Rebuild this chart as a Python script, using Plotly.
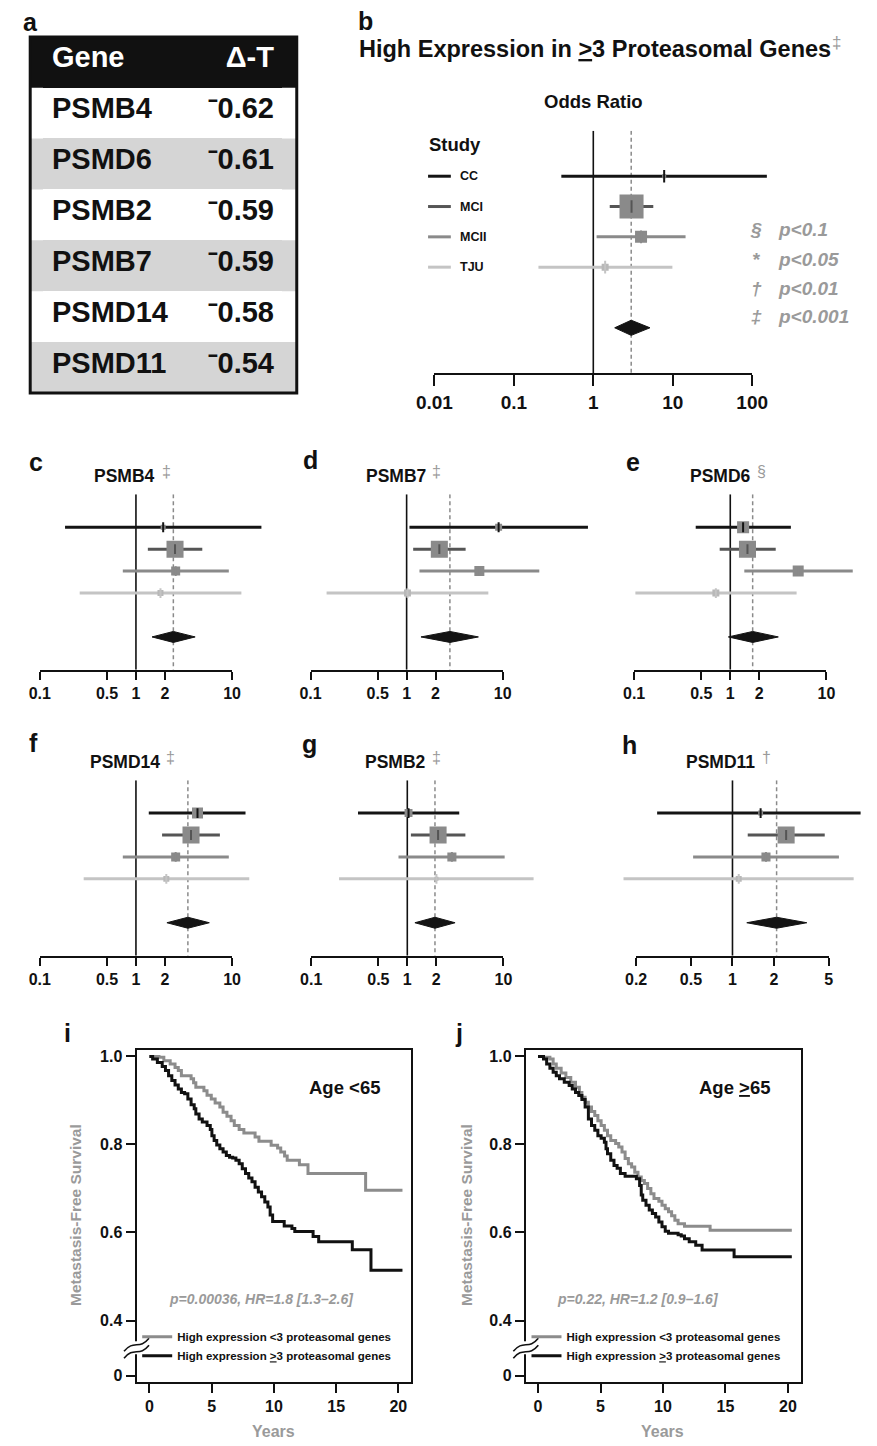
import math
import plotly.graph_objects as go

W, H = 877, 1446
def fx(x): return x / W
def fy(y): return 1 - y / H

FONT = "Liberation Sans, Arial, Helvetica, sans-serif"
GRAY_TXT = "#9a9a9a"

# ---------------- data ----------------
table_genes = ["PSMB4", "PSMD6", "PSMB2", "PSMB7", "PSMD14", "PSMD11"]
table_delta_t = [-0.62, -0.61, -0.59, -0.59, -0.58, -0.54]

studies = ["CC", "MCI", "MCII", "TJU"]

b_est = [7.8, 3.03, 3.99, 1.41]
b_lo = [0.396, 1.61, 1.10, 0.204]
b_hi = [153, 5.69, 14.5, 9.9]
b_weight = [1.7, 60, 15, 5.1]
b_pooled = [1.86, 3.0, 5.17]

c_est = [1.92, 2.55, 2.59, 1.80]
c_lo = [0.183, 1.33, 0.73, 0.26]
c_hi = [20.2, 4.9, 9.25, 12.5]
c_weight = [5.2, 60, 16.7, 7.4]
c_pooled = [1.47, 2.45, 4.13]

d_est = [9.06, 2.19, 5.71, 1.02]
d_lo = [1.07, 1.17, 1.36, 0.147]
d_hi = [77, 4.11, 24, 7.08]
d_weight = [10, 60, 20.7, 10]
d_pooled = [1.41, 2.82, 5.58]

e_est = [1.36, 1.51, 5.09, 0.708]
e_lo = [0.437, 0.776, 1.40, 0.103]
e_hi = [4.27, 2.97, 18.8, 4.9]
e_weight = [30, 60, 25, 10]
e_pooled = [0.955, 1.71, 3.16]

f_est = [4.37, 3.74, 2.59, 2.07]
f_lo = [1.36, 1.87, 0.73, 0.286]
f_hi = [13.8, 7.47, 9.25, 15.1]
f_weight = [25, 60, 16.7, 7.4]
f_pooled = [2.1, 3.47, 5.8]

g_est = [1.03, 2.09, 2.91, 2.01]
g_lo = [0.307, 1.09, 0.81, 0.195]
g_hi = [3.47, 4.02, 10.3, 20.6]
g_weight = [13, 60, 17, 3.3]
g_pooled = [1.2, 1.94, 3.14]

h_est = [1.60, 2.45, 1.75, 1.11]
h_lo = [0.284, 1.29, 0.518, 0.162]
h_hi = [8.5, 4.67, 5.92, 7.57]
h_weight = [5, 60, 17, 7.4]
h_pooled = [1.27, 2.09, 3.46]

ticks_b = [0.01, 0.1, 1, 10, 100]
ticks_b_text = ["0.01", "0.1", "1", "10", "100"]
ticks_std = [0.1, 0.5, 1, 2, 10]
ticks_std_text = ["0.1", "0.5", "1", "2", "10"]
ticks_h = [0.2, 0.5, 1, 2, 5]
ticks_h_text = ["0.2", "0.5", "1", "2", "5"]

panel_genes = ["PSMB4", "PSMB7", "PSMD6", "PSMD14", "PSMB2", "PSMD11"]
panel_signif = ["‡", "‡", "§", "‡", "‡", "†"]
overall_signif = "‡"

p_symbols = ["§", "*", "†", "‡"]
p_thresholds = ["p&lt;0.1", "p&lt;0.05", "p&lt;0.01", "p&lt;0.001"]

# Kaplan-Meier, age < 65
km_i_low_t = [0.77, 1.16, 1.67, 2.06, 2.32, 2.57, 3.35, 3.55, 3.73, 4.38, 4.63, 4.97, 5.28, 5.66,
              5.92, 6.23, 6.56, 6.82, 7.21, 7.59, 8.49, 8.80, 9.78, 10.30, 10.55, 10.86, 11.07,
              12.05, 12.74, 17.37]
km_i_low_s = [0.998, 0.990, 0.983, 0.975, 0.968, 0.956, 0.949, 0.940, 0.930, 0.922, 0.912, 0.903,
              0.894, 0.885, 0.873, 0.864, 0.854, 0.843, 0.834, 0.826, 0.817, 0.807, 0.798, 0.792,
              0.783, 0.774, 0.764, 0.754, 0.734, 0.696]
km_i_high_t = [0.26, 0.64, 1.03, 1.29, 1.54, 1.80, 2.06, 2.32, 2.57, 2.83, 3.09, 3.35, 3.60, 3.73,
               3.99, 4.25, 4.63, 4.89, 5.02, 5.20, 5.41, 5.66, 5.92, 6.18, 6.44, 6.69, 6.95, 7.21,
               7.46, 7.72, 7.98, 8.24, 8.49, 8.75, 9.01, 9.27, 9.52, 9.70, 9.90, 10.83, 11.45, 11.68,
               13.15, 13.60, 16.30, 17.80]
km_i_high_s = [0.994, 0.986, 0.977, 0.968, 0.956, 0.945, 0.935, 0.926, 0.918, 0.915, 0.903, 0.890,
               0.881, 0.869, 0.858, 0.851, 0.843, 0.834, 0.820, 0.809, 0.799, 0.790, 0.783, 0.775,
               0.771, 0.769, 0.764, 0.756, 0.745, 0.734, 0.724, 0.715, 0.703, 0.692, 0.681, 0.669,
               0.658, 0.640, 0.625, 0.615, 0.609, 0.602, 0.591, 0.579, 0.561, 0.514]
km_i_end = 20.33

# Kaplan-Meier, age >= 65
km_j_low_t = [0.44, 0.95, 1.21, 1.46, 1.85, 2.23, 2.62, 3.00, 3.31, 3.51, 3.77, 4.03, 4.28, 4.54,
              4.79, 5.05, 5.31, 5.56, 5.82, 6.21, 6.46, 6.72, 6.97, 7.23, 7.49, 7.74, 8.00, 8.26,
              8.51, 8.77, 9.03, 9.28, 9.67, 9.92, 10.18, 10.44, 10.69, 10.95, 11.21, 11.72, 13.77]
km_j_low_s = [0.998, 0.994, 0.983, 0.973, 0.962, 0.952, 0.941, 0.930, 0.918, 0.907, 0.896, 0.885,
              0.875, 0.866, 0.854, 0.843, 0.832, 0.820, 0.809, 0.802, 0.794, 0.783, 0.768, 0.756,
              0.749, 0.737, 0.726, 0.718, 0.711, 0.700, 0.688, 0.677, 0.671, 0.662, 0.654, 0.647,
              0.638, 0.628, 0.620, 0.614, 0.605]
km_j_high_t = [0.44, 0.69, 0.95, 1.21, 1.46, 1.72, 2.10, 2.49, 2.74, 3.00, 3.26, 3.51, 3.77, 4.03,
               4.28, 4.54, 4.79, 5.05, 5.31, 5.44, 5.56, 5.82, 6.08, 6.33, 6.59, 6.97, 7.87, 8.13,
               8.26, 8.38, 8.64, 8.90, 9.15, 9.41, 9.67, 9.92, 10.18, 10.44, 11.21, 11.46, 11.72,
               12.10, 12.62, 13.13, 15.69]
km_j_high_s = [0.994, 0.983, 0.973, 0.964, 0.956, 0.949, 0.941, 0.934, 0.926, 0.918, 0.911, 0.902,
               0.885, 0.858, 0.843, 0.832, 0.820, 0.814, 0.805, 0.790, 0.779, 0.764, 0.752, 0.746,
               0.734, 0.728, 0.722, 0.707, 0.685, 0.673, 0.662, 0.651, 0.643, 0.635, 0.624, 0.613,
               0.603, 0.598, 0.595, 0.592, 0.586, 0.579, 0.571, 0.560, 0.545]
km_j_end = 20.31

km_xticks = [0, 5, 10, 15, 20]
km_ytick_text = ["0", "0.4", "0.6", "0.8", "1.0"]
km_ytick_vals = [0.275, 0.4, 0.6, 0.8, 1.0]   # "0" drawn below the axis break
km_group_names = ["High expression &lt;3 proteasomal genes",
                  "High expression <u>&gt;</u>3 proteasomal genes"]
km_i_stats = "p=0.00036, HR=1.8 [1.3–2.6]"
km_j_stats = "p=0.22, HR=1.2 [0.9–1.6]"

# ---------------- styles ----------------
line_colors = ["#141414", "#555555", "#8a8a8a", "#c4c4c4"]
square_colors = ["#8a8a8a", "#8a8a8a", "#8a8a8a", "#b8b8b8"]
km_colors = ["#8c8c8c", "#111111"]
ROW_GRAY = "#d5d5d5"

fig = go.Figure()
layout = dict(width=W, height=H, margin=dict(l=0, r=0, t=0, b=0), autosize=False,
              paper_bgcolor="white", plot_bgcolor="rgba(0,0,0,0)", showlegend=True)
annotations = []
shapes = []

def ann(text, x, y, size, color="#111111", family=FONT, weight="bold", xanchor="center",
        yanchor="middle", style="normal", angle=0):
    annotations.append(dict(text=text, x=fx(x), y=fy(y), xref="paper", yref="paper",
                            showarrow=False, xanchor=xanchor, yanchor=yanchor, textangle=angle,
                            font=dict(family=family, size=size, color=color, weight=weight,
                                      style=style)))

def axkey(prefix, n):
    return f"{prefix}axis" if n == 1 else f"{prefix}axis{n}"

def axref(prefix, n):
    return prefix if n == 1 else f"{prefix}{n}"

# ---------------- panel a: table ----------------
TAB_L, TAB_R, TAB_T, HEAD_H, ROW_H = 12.7, 290, 35, 51, 51
row_fill = ["#ffffff" if i % 2 == 0 else ROW_GRAY for i in range(len(table_genes))]
dt_text = [("⁻" if v < 0 else "") + f"{abs(v):.2f}" for v in table_delta_t]
fig.add_trace(go.Table(
    domain=dict(x=[fx(27), fx(275)], y=[fy(TAB_T + HEAD_H + ROW_H * len(table_genes) + 2), fy(TAB_T)]),
    columnwidth=[163, 85],
    header=dict(values=["Gene", "Δ-T"], height=HEAD_H, fill=dict(color="#111111"),
                line=dict(color="#111111", width=1), align=["left", "right"],
                font=dict(family=FONT, size=29, color="white", weight="bold")),
    cells=dict(values=[table_genes, dt_text], height=ROW_H,
               fill=dict(color=[row_fill] * 2), line=dict(color=[row_fill] * 2, width=1),
               align=["left", "right"],
               font=dict(family=FONT, size=29, color="#111111", weight="bold")),
))
shapes.append(dict(type="rect", xref="paper", yref="paper", x0=fx(TAB_L), x1=fx(TAB_R),
                   y0=fy(TAB_T + HEAD_H), y1=fy(TAB_T), fillcolor="#111111",
                   line=dict(width=0), layer="below"))
for i, col in enumerate(row_fill):
    if col != "#ffffff":
        top = TAB_T + HEAD_H + ROW_H * i
        shapes.append(dict(type="rect", xref="paper", yref="paper", x0=fx(TAB_L), x1=fx(TAB_R),
                           y0=fy(top + ROW_H), y1=fy(top), fillcolor=col,
                           line=dict(width=0), layer="below"))
shapes.append(dict(type="rect", xref="paper", yref="paper", x0=fx(TAB_L), x1=fx(TAB_R),
                   y0=fy(TAB_T + HEAD_H + ROW_H * len(table_genes)), y1=fy(TAB_T),
                   line=dict(color="#111111", width=3), fillcolor="rgba(0,0,0,0)", layer="above"))

# ---------------- forest panels b..h ----------------
forest = [
    dict(est=b_est, lo=b_lo, hi=b_hi, w=b_weight, pooled=b_pooled, ticks=ticks_b, tt=ticks_b_text,
         p1=598.5, k=82.65, L=415, R=800, r0=174.7, s=30.4, tfs=19, tlen=11, sqk=3.1, mark=9),
    dict(est=c_est, lo=c_lo, hi=c_hi, w=c_weight, pooled=c_pooled, ticks=ticks_std, tt=ticks_std_text,
         p1=122.7, k=100, L=5, R=285, r0=526.7, s=22, tfs=16, tlen=8, sqk=2.2, mark=7),
    dict(est=d_est, lo=d_lo, hi=d_hi, w=d_weight, pooled=d_pooled, ticks=ticks_std, tt=ticks_std_text,
         p1=404.3, k=100, L=290, R=600, r0=526.7, s=22, tfs=16, tlen=8, sqk=2.2, mark=7),
    dict(est=e_est, lo=e_lo, hi=e_hi, w=e_weight, pooled=e_pooled, ticks=ticks_std, tt=ticks_std_text,
         p1=741, k=100, L=605, R=877, r0=526.7, s=22, tfs=16, tlen=8, sqk=2.2, mark=7),
    dict(est=f_est, lo=f_lo, hi=f_hi, w=f_weight, pooled=f_pooled, ticks=ticks_std, tt=ticks_std_text,
         p1=122.7, k=100, L=5, R=285, r0=813.3, s=22, tfs=16, tlen=8, sqk=2.2, mark=7),
    dict(est=g_est, lo=g_lo, hi=g_hi, w=g_weight, pooled=g_pooled, ticks=ticks_std, tt=ticks_std_text,
         p1=405, k=100, L=290, R=600, r0=813.3, s=22, tfs=16, tlen=8, sqk=2.2, mark=7),
    dict(est=h_est, lo=h_lo, hi=h_hi, w=h_weight, pooled=h_pooled, ticks=ticks_h, tt=ticks_h_text,
         p1=743.3, k=143.4, L=600, R=877, r0=813.3, s=22, tfs=16, tlen=8, sqk=2.2, mark=7),
]

for p, sp in enumerate(forest):
    xd, xt, yi = 2 * p + 1, 2 * p + 2, p + 1
    xdr, xtr, yr = axref("x", xd), axref("x", xt), axref("y", yi)
    p1, k, s, r0 = sp["p1"], sp["k"], sp["s"], sp["r0"]
    layout[axkey("x", xd)] = dict(domain=[fx(sp["L"]), fx(sp["R"])], type="log",
                                  range=[(sp["L"] - p1) / k, (sp["R"] - p1) / k],
                                  visible=False, anchor=yr, fixedrange=True)
    t0, t1 = sp["ticks"][0], sp["ticks"][-1]
    layout[axkey("x", xt)] = dict(domain=[fx(p1 + k * math.log10(t0)), fx(p1 + k * math.log10(t1))],
                                  type="log", range=[math.log10(t0), math.log10(t1)], anchor=yr,
                                  showline=True, linecolor="#111111", linewidth=2,
                                  ticks="outside", ticklen=sp["tlen"], tickwidth=2, tickcolor="#111111",
                                  tickvals=sp["ticks"], ticktext=sp["tt"],
                                  tickfont=dict(family=FONT, size=sp["tfs"], color="#111111", weight="bold"),
                                  showgrid=False, zeroline=False, fixedrange=True)
    layout[axkey("y", yi)] = dict(domain=[fy(r0 + 6.5 * s), fy(r0 - 1.5 * s)], range=[6.5, -1.5],
                                  visible=False, anchor=xdr, fixedrange=True)
    fig.add_trace(go.Scatter(x=sp["ticks"], y=[0] * len(sp["ticks"]), xaxis=xtr, yaxis=yr,
                             mode="markers", marker=dict(opacity=0), showlegend=False, hoverinfo="skip"))
    fig.add_trace(go.Scatter(x=[1, 1], y=[-1.5, 6.5], xaxis=xdr, yaxis=yr, mode="lines",
                             line=dict(color="#111111", width=1.6), showlegend=False, hoverinfo="skip"))
    pooled_lo, pooled_est, pooled_hi = sp["pooled"]
    fig.add_trace(go.Scatter(x=[pooled_est, pooled_est], y=[-1.5, 6.5], xaxis=xdr, yaxis=yr,
                             mode="lines", line=dict(color="#8a8a8a", width=1.5, dash="4px,3px"),
                             showlegend=False, hoverinfo="skip"))
    for i in range(len(studies)):
        est, lo, hi = sp["est"][i], sp["lo"][i], sp["hi"][i]
        fig.add_trace(go.Scatter(
            x=[est], y=[i], xaxis=xdr, yaxis=yr, mode="markers", name=studies[i],
            marker=dict(symbol="square", size=sp["sqk"] * math.sqrt(sp["w"][i]),
                        color=square_colors[i], line=dict(width=0)),
            error_x=dict(type="data", symmetric=False, array=[hi - est], arrayminus=[est - lo],
                         color=line_colors[i], thickness=3, width=0),
            showlegend=False, hoverinfo="skip"))
    fig.add_trace(go.Scatter(x=sp["est"], y=list(range(len(studies))), xaxis=xdr, yaxis=yr,
                             mode="markers",
                             marker=dict(symbol="line-ns", size=sp["mark"],
                                         line=dict(color=line_colors, width=2)),
                             showlegend=False, hoverinfo="skip"))
    hh = 0.25
    fig.add_trace(go.Scatter(x=[pooled_lo, pooled_est, pooled_hi, pooled_est, pooled_lo],
                             y=[5, 5 - hh, 5, 5 + hh, 5], xaxis=xdr, yaxis=yr, mode="lines",
                             fill="toself", fillcolor="#141414", line=dict(color="#141414", width=1),
                             showlegend=False, hoverinfo="skip"))

# panel b texts
ann("High Expression in <u>&gt;</u>3 Proteasomal Genes", 353, 47, 23.5, xanchor="left")
ann(overall_signif, 851, 41, 17, color=GRAY_TXT, weight="normal")
ann("Odds Ratio", 598.6, 100, 18.5)
ann("Study", 454.7, 143, 18.5)
b_sp = forest[0]
for i, name in enumerate(studies):
    yy = b_sp["r0"] + i * b_sp["s"]
    shapes.append(dict(type="line", xref="paper", yref="paper", x0=fx(426.6), x1=fx(450.3),
                       y0=fy(yy), y1=fy(yy), line=dict(color=line_colors[i], width=3)))
    ann(name, 458.2, yy, 12.5, xanchor="left")
for i, (sym, pt) in enumerate(zip(p_symbols, p_thresholds)):
    yy = [228.3, 258.3, 287.3, 315][i]
    ann(sym, 768, yy, 19, color=GRAY_TXT, style="italic")
    ann(pt, 788.6, yy, 19, color=GRAY_TXT, style="italic", xanchor="left")

# gene panel titles: (end of gene name x, title y)
title_pos = [(145, 475), (426.7, 475), (765, 475), (150, 761.7), (426.7, 761.7), (769.3, 761.7)]
for gname, sig, (tx, ty) in zip(panel_genes, panel_signif, title_pos):
    ann(gname, tx, ty, 17.5, xanchor="right")
    ann(sig, tx + 9, ty - 4, 16, color=GRAY_TXT, weight="normal")

# panel letters
for letter, (lx, ly) in zip("abcdefghij", [(13.5, 20), (362, 19), (18.5, 461), (304.5, 459),
                                           (640, 461), (16, 743), (303.5, 744), (636.5, 745),
                                           (51, 1034), (459, 1034)]):
    ann(letter, lx, ly, 25)

# ---------------- Kaplan-Meier panels i, j ----------------
km = [
    dict(lt=km_i_low_t, ls=km_i_low_s, ht=km_i_high_t, hs=km_i_high_s, end=km_i_end,
         L=123.3, R=409.3, t0=136.7, kk=12.95, title="Age &lt;65", title_x=340,
         stats=km_i_stats, stats_x=155, ytitle_x=60, xtitle_x=266, legend="legend", leg_x=124),
    dict(lt=km_j_low_t, ls=km_j_low_s, ht=km_j_high_t, hs=km_j_high_s, end=km_j_end,
         L=528.3, R=814.3, t0=541, kk=13.0, title="Age <u>&gt;</u>65", title_x=745.7,
         stats=km_j_stats, stats_x=559, ytitle_x=466.7, xtitle_x=671, legend="legend2", leg_x=529),
]
top_px, bot_px = 1050.7, 1384
for q, kp in enumerate(km):
    xi, yi = 15 + q, 8 + q
    xr, yr = axref("x", xi), axref("y", yi)
    common = dict(showline=True, mirror=True, linecolor="#111111", linewidth=2, ticks="outside",
                  ticklen=9, tickwidth=2, tickcolor="#111111", showgrid=False, zeroline=False,
                  fixedrange=True,
                  tickfont=dict(family=FONT, size=16, color="#111111", weight="bold"))
    layout[axkey("x", xi)] = dict(domain=[fx(kp["L"]), fx(kp["R"])],
                                  range=[(kp["L"] - kp["t0"]) / kp["kk"], (kp["R"] - kp["t0"]) / kp["kk"]],
                                  tickvals=km_xticks, anchor=yr, **common)
    layout[axkey("y", yi)] = dict(domain=[fy(bot_px), fy(top_px)], range=[0.26, 1.015],
                                  tickvals=km_ytick_vals, ticktext=km_ytick_text, anchor=xr, **common)
    for gi, (tt, ss) in enumerate([(kp["lt"], kp["ls"]), (kp["ht"], kp["hs"])]):
        fig.add_trace(go.Scatter(x=[0] + tt + [kp["end"]], y=[1.0] + ss + [ss[-1]],
                                 xaxis=xr, yaxis=yr, mode="lines", line_shape="hv",
                                 line=dict(color=km_colors[gi], width=3),
                                 name=km_group_names[gi], legend=kp["legend"], showlegend=True,
                                 hoverinfo="skip"))
    layout[kp["legend"]] = dict(x=fx(kp["leg_x"]), y=fy(1324), xanchor="left", yanchor="top",
                                bgcolor="rgba(0,0,0,0)", borderwidth=0, itemwidth=30,
                                tracegroupgap=0, traceorder="normal",
                                font=dict(family=FONT, size=11.5, color="#111111", weight="bold"))
    ann(kp["title"], kp["title_x"], 1088.3, 18.5)
    ann(kp["stats"], kp["stats_x"], 1301, 14, color=GRAY_TXT, style="italic", xanchor="left")
    ann("Metastasis-Free Survival", kp["ytitle_x"], 1216.7, 15.5, color=GRAY_TXT, angle=-90)
    ann("Years", kp["xtitle_x"], 1433, 16, color=GRAY_TXT)
    ax = kp["L"]
    shapes.append(dict(type="rect", xref="paper", yref="paper", x0=fx(ax - 4), x1=fx(ax + 4),
                       y0=fy(1356), y1=fy(1343), fillcolor="white", line=dict(width=0), layer="above"))
    for off in (0, 7):
        y0, y1 = 1353 + off, 1340 + off
        path = (f"M {fx(ax - 13)},{fy(y0)} C {fx(ax - 3)},{fy(y0 - 12)} "
                f"{fx(ax + 3)},{fy(y1 + 12)} {fx(ax + 13)},{fy(y1)}")
        shapes.append(dict(type="path", xref="paper", yref="paper", path=path,
                           line=dict(color="#111111", width=1.6), layer="above"))

layout["annotations"] = annotations
layout["shapes"] = shapes
fig.update_layout(**layout)
fig.write_html("out.html", config={"displayModeBar": False},
               post_script="document.body.style.margin='0px';document.body.style.padding='0px';")
